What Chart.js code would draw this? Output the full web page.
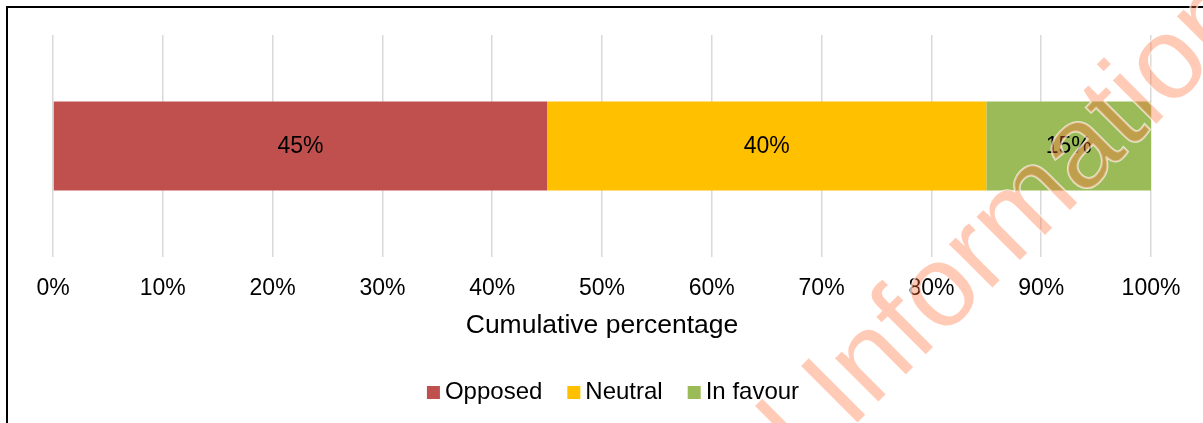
<!DOCTYPE html>
<html>
<head>
<meta charset="utf-8">
<script src="https://cdn.jsdelivr.net/npm/chart.js@4/dist/chart.umd.min.js"></script>
<style>
  html, body { margin: 0; padding: 0; background: #fff; }
  #wrap { width: 1203px; height: 423px; position: relative; }
</style>
</head>
<body>
<div id="wrap"><canvas id="chart"></canvas></div>
<script>
  // Daten
  const categories = [''];
  const seriesNames = ['Opposed', 'Neutral', 'In favour'];
  const opposed = [45];
  const neutral = [40];
  const inFavour = [15];
  const seriesColors = ['#C0504D', '#FFC000', '#9BBB59'];
  const tickMin = 0, tickMax = 100, tickStep = 10;
  const axisTitle = 'Cumulative percentage';
  const watermarkText = 'Confidential Information';

  const FONT = 'Liberation Sans, Arial, sans-serif';

  // Rahmen oben und links
  const framePlugin = {
    id: 'frame',
    beforeDraw(chart) {
      const ctx = chart.ctx;
      ctx.save();
      ctx.fillStyle = '#000';
      ctx.fillRect(6, 6, chart.width - 6, 2);
      ctx.fillRect(6, 6, 2, chart.height - 6);
      ctx.restore();
    }
  };

  // Prozentwerte mittig in die Segmente
  const labelPlugin = {
    id: 'segLabels',
    afterDatasetsDraw(chart) {
      const ctx = chart.ctx;
      ctx.save();
      ctx.font = '23px ' + FONT;
      ctx.fillStyle = '#000';
      ctx.textAlign = 'center';
      ctx.textBaseline = 'middle';
      chart.data.datasets.forEach((d, i) => {
        chart.getDatasetMeta(i).data.forEach((bar, j) => {
          const p = bar.getProps(['x', 'base', 'y'], true);
          ctx.fillText(d.data[j] + '%', (p.x + p.base) / 2, p.y + 1);
        });
      });
      ctx.restore();
    }
  };

  // Legende wie im Original: kleines Quadrat, enger Abstand zum Text
  const legendPlugin = {
    id: 'tightLegend',
    afterDraw(chart) {
      const ctx = chart.ctx;
      const box = 13, gapText = 5, gapItem = 25;
      ctx.save();
      ctx.font = '24px ' + FONT;
      ctx.textBaseline = 'alphabetic';
      ctx.textAlign = 'left';
      const items = chart.data.datasets.map(d => ({
        text: d.label, color: d.backgroundColor, w: ctx.measureText(d.label).width
      }));
      const total = items.reduce((s, it) => s + box + gapText + it.w, 0) + gapItem * (items.length - 1);
      let x = 613 - total / 2;
      const baseY = 399;
      items.forEach(it => {
        ctx.fillStyle = it.color;
        ctx.fillRect(x, baseY - box, box, box);
        x += box + gapText;
        ctx.fillStyle = '#000';
        ctx.fillText(it.text, x, baseY);
        x += it.w + gapItem;
      });
      ctx.restore();
    }
  };

  // Wasserzeichen, schräg über alles
  const watermarkPlugin = {
    id: 'watermark',
    afterDraw(chart) {
      const ctx = chart.ctx;
      ctx.save();
      ctx.translate(850, 430);
      ctx.rotate(-45 * Math.PI / 180);
      ctx.font = '116px ' + FONT;
      ctx.textAlign = 'right';
      ctx.textBaseline = 'alphabetic';
      // "Information" beginnt am Ursprung
      const tailW = ctx.measureText('Information').width;
      ctx.lineWidth = 2;
      ctx.strokeStyle = 'rgba(255,255,255,0.7)';
      ctx.strokeText(watermarkText, tailW, 0);
      ctx.fillStyle = 'rgba(255,112,52,0.36)';
      ctx.fillText(watermarkText, tailW, 0);
      ctx.restore();
    }
  };

  const datasets = [opposed, neutral, inFavour].map((vals, i) => ({
    label: seriesNames[i],
    data: vals,
    backgroundColor: seriesColors[i],
    borderWidth: 0,
    barPercentage: 0.8,
    categoryPercentage: 0.5
  }));

  new Chart(document.getElementById('chart'), {
    type: 'bar',
    data: { labels: categories, datasets },
    plugins: [framePlugin, labelPlugin, legendPlugin, watermarkPlugin],
    options: {
      indexAxis: 'y',
      responsive: true,
      maintainAspectRatio: false,
      animation: false,
      layout: { padding: { left: 53, right: 52, top: 35, bottom: 55 } },
      plugins: {
        tooltip: { enabled: false },
        legend: { display: false }
      },
      scales: {
        x: {
          stacked: true,
          min: tickMin,
          max: tickMax,
          afterFit: s => { s.height = 111; },
          grid: { color: '#D9D9D9', lineWidth: 1.5, drawTicks: false },
          border: { display: false },
          ticks: {
            stepSize: tickStep,
            color: '#000',
            padding: 18,
            maxRotation: 0,
            font: { size: 23, family: FONT },
            callback: v => v + '%'
          },
          title: {
            display: true,
            text: axisTitle,
            color: '#000',
            font: { size: 26.5, family: FONT },
            padding: { top: 4, bottom: 26 }
          }
        },
        y: {
          stacked: true,
          display: false
        }
      }
    }
  });
</script>
</body>
</html>
